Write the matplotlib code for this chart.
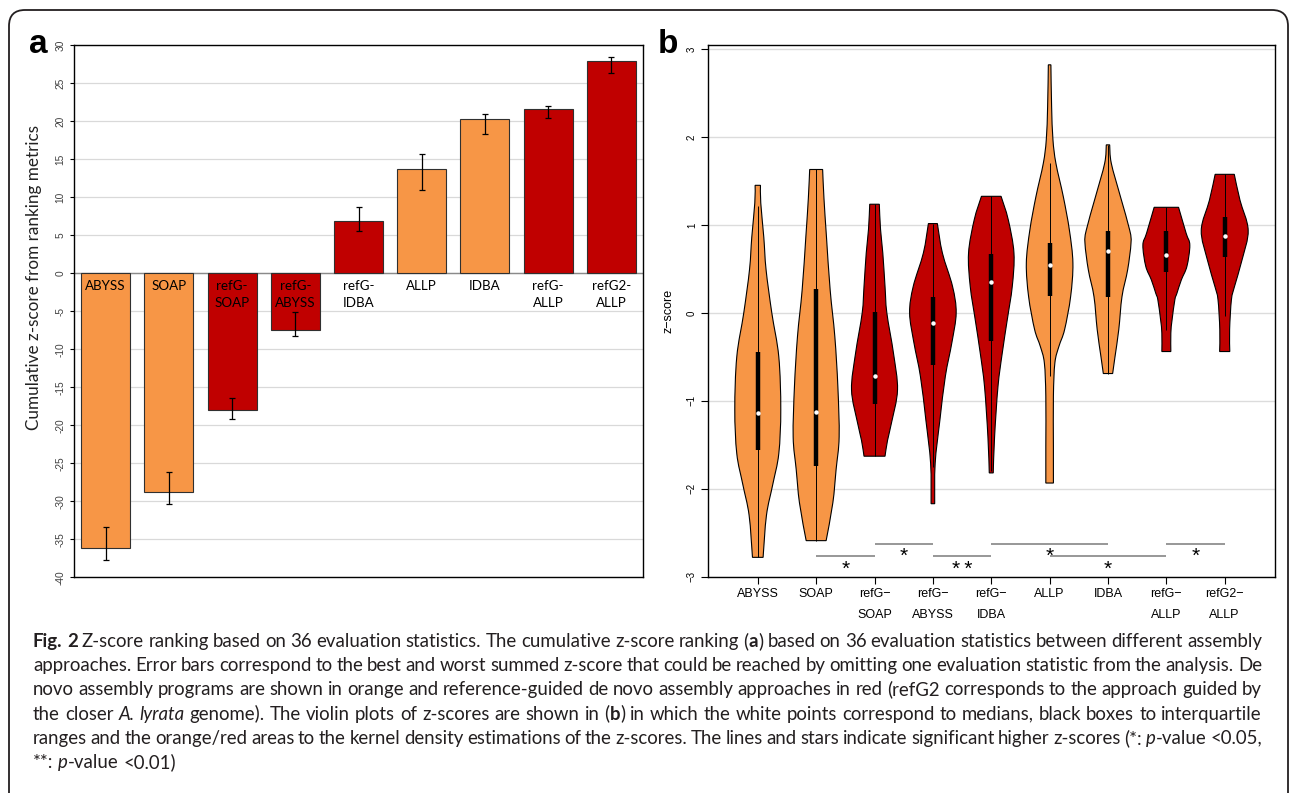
import numpy as np
import matplotlib
matplotlib.use("Agg")
import matplotlib.pyplot as plt
from matplotlib.path import Path
from matplotlib.patches import PathPatch, FancyBboxPatch
from matplotlib.transforms import IdentityTransform

plt.rcParams['font.family'] = ['Liberation Sans', 'DejaVu Sans']

# ---------------- data: panel a (cumulative z-score) ----------------
labels_a = ["ABYSS", "SOAP", "refG-\nSOAP", "refG-\nABYSS", "refG-\nIDBA",
            "ALLP", "IDBA", "refG-\nALLP", "refG2-\nALLP"]
guided = [0, 0, 1, 1, 1, 0, 0, 1, 1]
cum_z = [-36.2, -28.8, -18.0, -7.4, 6.9, 13.7, 20.3, 21.6, 27.9]
cum_z_worst = [-37.7, -30.4, -19.2, -8.3, 5.5, 10.9, 18.3, 20.4, 26.4]
cum_z_best = [-33.4, -26.2, -16.4, -5.1, 8.7, 15.7, 20.9, 22.0, 28.4]
yticks_a = [30, 25, 20, 15, 10, 5, 0, -5, -10, -15, -20, -25, -30, -35, -40]

# ---------------- data: panel b (violins of z-scores) ----------------
labels_b = ["ABYSS", "SOAP", "refG\u2212\nSOAP", "refG\u2212\nABYSS", "refG\u2212\nIDBA",
            "ALLP", "IDBA", "refG\u2212\nALLP", "refG2\u2212\nALLP"]
# density outline: z levels (top -> bottom) and half widths (x units)
vio_z = [
    [1.45, 1.25, 0.86, 0.49, 0.0, -0.5, -1.1, -1.6, -1.95, -2.3, -2.78],
    [1.63, 1.3, 0.87, 0.26, -0.27, -0.84, -1.41, -1.78, -2.16, -2.59],
    [1.235, 0.95, 0.68, 0.3, 0.0, -0.46, -0.875, -1.25, -1.45, -1.63],
    [1.015, 0.68, 0.30, 0.0, -0.34, -0.72, -1.22, -1.71, -2.17],
    [1.325, 1.06, 0.68, 0.30, -0.08, -0.46, -0.84, -1.41, -1.82],
    [2.82, 2.35, 1.97, 1.70, 1.32, 0.94, 0.565, 0.185, -0.19, -0.38, -0.57, -0.95, -1.52, -1.935],
    [1.91, 1.70, 1.32, 0.94, 0.79, 0.49, 0.185, -0.19, -0.5, -0.69],
    [1.2, 0.905, 0.77, 0.53, 0.375, 0.22, 0.15, -0.08, -0.23, -0.44],
    [1.575, 1.28, 0.94, 0.60, 0.30, 0.15, -0.19, -0.44],
]
vio_w = [
    [0.046, 0.051, 0.103, 0.142, 0.240, 0.360, 0.394, 0.360, 0.257, 0.149, 0.091],
    [0.111, 0.134, 0.176, 0.240, 0.320, 0.372, 0.394, 0.342, 0.286, 0.171],
    [0.082, 0.103, 0.142, 0.180, 0.211, 0.325, 0.394, 0.291, 0.223, 0.180],
    [0.077, 0.163, 0.337, 0.399, 0.325, 0.214, 0.120, 0.039, 0.031],
    [0.168, 0.291, 0.389, 0.360, 0.274, 0.188, 0.115, 0.057, 0.034],
    [0.022, 0.034, 0.057, 0.108, 0.235, 0.339, 0.399, 0.360, 0.257, 0.160, 0.090, 0.065, 0.065, 0.065],
    [0.029, 0.057, 0.214, 0.372, 0.394, 0.337, 0.240, 0.185, 0.120, 0.080],
    [0.209, 0.339, 0.402, 0.353, 0.257, 0.180, 0.146, 0.098, 0.077, 0.077],
    [0.164, 0.262, 0.402, 0.296, 0.168, 0.115, 0.084, 0.087],
]
whisk_lo = [-2.78, -2.59, -1.63, -1.75, -1.80, -0.72, -0.69, -0.20, -0.04]
whisk_hi = [1.22, 1.63, 1.235, 1.015, 1.325, 1.70, 1.91, 1.20, 1.575]
q1 = [-1.56, -1.74, -1.04, -0.59, -0.32, 0.19, 0.185, 0.47, 0.64]
q3 = [-0.45, 0.27, 0.015, 0.18, 0.67, 0.79, 0.935, 0.925, 1.09]
median = [-1.14, -1.13, -0.72, -0.11, 0.35, 0.54, 0.70, 0.655, 0.87]
yticks_b = [-3, -2, -1, 0, 1, 2, 3]

sig_from = [2, 3, 4, 5, 6, 8]
sig_to = [3, 4, 5, 7, 8, 9]
sig_level = [-2.77, -2.63, -2.77, -2.63, -2.77, -2.63]
sig_stars = ["*", "*", "**", "*", "*", "*"]

# ---------------- caption ----------------
caption_runs = [
    [("Fig. 2", "b"), (" Z-score ranking based on 36 evaluation statistics. The cumulative z-score ranking (", "n"),
     ("a", "b"), (") based on 36 evaluation statistics between different assembly", "n")],
    [("approaches. Error bars correspond to the best and worst summed z-score that could be reached by omitting one evaluation statistic from the analysis. De", "n")],
    [("novo assembly programs are shown in orange and reference-guided de novo assembly approaches in red (refG2 corresponds to the approach guided by", "n")],
    [("the closer ", "n"), ("A. lyrata", "i"), (" genome). The violin plots of z-scores are shown in (", "n"), ("b", "b"),
     (") in which the white points correspond to medians, black boxes to interquartile", "n")],
    [("ranges and the orange/red areas to the kernel density estimations of the z-scores. The lines and stars indicate significant higher z-scores (*: ", "n"),
     ("p", "i"), ("-value <0.05,", "n")],
    [("**: ", "n"), ("p", "i"), ("-value <0.01)", "n")],
]

ORANGE = "#F79646"
RED = "#C00000"
W, H = 1290, 793

fig = plt.figure(figsize=(W / 100, H / 100), dpi=100)


def frac_rect(left, top, right, bottom):
    return [left / W, 1 - bottom / H, (right - left) / W, (bottom - top) / H]


# ================= panel a =================
ax_a = fig.add_axes(frac_rect(74, 45.3, 643, 577.3))
xa = np.arange(len(cum_z))
cols = [RED if g else ORANGE for g in guided]
ax_a.bar(xa, cum_z, width=0.775, color=cols, edgecolor="#303030", linewidth=0.8, zorder=3)
vals = np.array(cum_z)
ax_a.errorbar(xa, vals, yerr=[vals - np.array(cum_z_worst), np.array(cum_z_best) - vals],
              fmt="none", ecolor="black", elinewidth=0.9, capsize=2.2, capthick=0.9, zorder=4)
ax_a.axhline(0, color="#8a8a8a", lw=1.0, zorder=2)
ax_a.set_xlim(-0.5, len(cum_z) - 0.5)
ax_a.set_ylim(-40, 30)
ax_a.set_yticks(yticks_a)
ax_a.set_yticklabels([str(v) for v in yticks_a], rotation=90, va="center", fontsize=7.3, color="#404040")
ax_a.yaxis.grid(True, color="#d9d9d9", lw=0.9)
ax_a.set_axisbelow(True)
ax_a.set_xticks([])
ax_a.tick_params(axis="y", direction="out", length=3, width=0.8, pad=3)
for s in ax_a.spines.values():
    s.set_linewidth(1.0)
    s.set_color("black")
ax_a.set_ylabel("Cumulative z-score from ranking metrics", fontsize=12.3, family=["Lato", "DejaVu Sans"], color="#222222")
ax_a.yaxis.set_label_coords((42 - 74) / 569, (577.3 - 278) / 532)
for i, lab in enumerate(labels_a):
    ax_a.text(i, -0.85, lab, ha="center", va="top", fontsize=9.6, family=["Lato", "DejaVu Sans"],
              linespacing=1.5, color="black", zorder=5)

fig.text(38 / W, 1 - 53 / H, "a", fontsize=24, weight="bold", ha="center", va="baseline")
fig.text(668 / W, 1 - 53 / H, "b", fontsize=24, weight="bold", ha="center", va="baseline")

# ================= panel b =================
ax_b = fig.add_axes(frac_rect(708, 45.3, 1274.5, 576.7))
ax_b.set_xlim(0.147, 9.853)
ax_b.set_ylim(-2.997, 3.042)
ax_b.set_yticks(yticks_b)
ax_b.set_yticklabels([str(v).replace("-", "\u2212") for v in yticks_b], rotation=90, va="center", fontsize=7)
ax_b.yaxis.grid(True, color="#dcdcdc", lw=1.0)
ax_b.set_axisbelow(True)
ax_b.set_xticks(np.arange(1, 10))
ax_b.set_xticklabels(labels_b, fontsize=9, linespacing=2.0)
ax_b.tick_params(axis="both", direction="out", length=5, width=0.8, pad=3)
for s in ax_b.spines.values():
    s.set_linewidth(1.0)
    s.set_color("black")
ax_b.set_ylabel("z\u2212score", fontsize=9)
ax_b.yaxis.set_label_coords((674.5 - 708) / 566.5, 0.5)


def cr_bezier(pts):
    verts, codes = [], []
    n = len(pts)
    for k in range(n - 1):
        p0 = pts[max(k - 1, 0)]
        p1 = pts[k]
        p2 = pts[k + 1]
        p3 = pts[min(k + 2, n - 1)]
        c1 = p1 + (p2 - p0) / 6.0
        c2 = p2 - (p3 - p1) / 6.0
        verts += [tuple(c1), tuple(c2), tuple(p2)]
        codes += [Path.CURVE4] * 3
    return verts, codes


for i in range(len(vio_z)):
    p = i + 1
    z = np.array(vio_z[i])
    w = np.array(vio_w[i])
    col = RED if guided[i] else ORANGE
    right = np.column_stack([p + w, z])
    left = np.column_stack([p - w[::-1], z[::-1]])
    verts = [(p - w[0], z[0]), (p + w[0], z[0])]
    codes = [Path.MOVETO, Path.LINETO]
    v, c = cr_bezier(right)
    verts += v
    codes += c
    verts.append((p - w[-1], z[-1]))
    codes.append(Path.LINETO)
    v, c = cr_bezier(left)
    verts += v
    codes += c
    verts.append((p - w[0], z[0]))
    codes.append(Path.CLOSEPOLY)
    ax_b.add_patch(PathPatch(Path(verts, codes), facecolor=col, edgecolor="black", lw=0.8, zorder=3))
    ax_b.vlines(p, whisk_lo[i], whisk_hi[i], color="black", lw=0.7, zorder=4)
    ax_b.vlines(p, q1[i], q3[i], color="black", lw=3.2, zorder=5, capstyle="butt")
    ax_b.plot([p], [median[i]], "o", color="white", ms=3.2, mec="none", zorder=6)

for a, b, lev, st in zip(sig_from, sig_to, sig_level, sig_stars):
    ax_b.hlines(lev, a, b, color="#7a7a7a", lw=1.1, zorder=4)
    txt = st if len(st) == 1 else "*\u2009*"
    ax_b.text((a + b) / 2, lev - 0.035, txt, ha="center", va="top", fontsize=15, zorder=5,
              family=["Liberation Sans", "DejaVu Sans"])

# ================= frame =================
frame = FancyBboxPatch((9, -60), 1279, 783 + 60, boxstyle="round,pad=0,rounding_size=16",
                       transform=IdentityTransform(), fill=False, ec="#231f20", lw=1.3)
fig.add_artist(frame)

# ================= caption (justified) =================
renderer = fig.canvas.get_renderer()
style_kw = {
    "n": dict(family=["Lato", "DejaVu Sans"]),
    "b": dict(family=["Lato", "DejaVu Sans"], weight="bold"),
    "i": dict(family=["Lato", "DejaVu Sans"], style="italic"),
}
CAP_COLOR = "#231f20"


def tw(s, st, fs):
    t = fig.text(0, 0, s, fontsize=fs, **style_kw[st])
    wdt = t.get_window_extent(renderer).width
    t.remove()
    return wdt


def adv(s, st, fs):
    return tw("|" + s + "|", st, fs) - tw("||", st, fs)


def words_of(runs):
    words = [[]]
    for text, st in runs:
        parts = text.split(" ")
        for j, part in enumerate(parts):
            if j > 0:
                words.append([])
            if part:
                words[-1].append((part, st))
    return [wd for wd in words if wd]


cap_x0, cap_x1 = 33, 1262
target = cap_x1 - cap_x0
fs0 = 14.5
space0 = adv(" ", "n", fs0)
need = 0
for runs in caption_runs[:-1]:
    wds = words_of(runs)
    tot = sum(adv(seg, st, fs0) for wd in wds for seg, st in wd)
    need = max(need, tot + (len(wds) - 1) * space0 * 0.8)
fs = min(fs0, fs0 * target / need)
space = adv(" ", "n", fs)

base0 = 647
lead = 24.2
for li, runs in enumerate(caption_runs):
    wds = words_of(runs)
    wwidths = [[adv(seg, st, fs) for seg, st in wd] for wd in wds]
    tot = sum(sum(ww) for ww in wwidths)
    if li < len(caption_runs) - 1 and len(wds) > 1:
        gap = (target - tot) / (len(wds) - 1)
    else:
        gap = space
    x = cap_x0
    yb = H - (base0 + li * lead)
    for wd, ww in zip(wds, wwidths):
        xx = x
        for (seg, st), sw in zip(wd, ww):
            fig.text(xx, yb, seg, fontsize=fs, color=CAP_COLOR, ha="left", va="baseline",
                     transform=IdentityTransform(), **style_kw[st])
            xx += sw
        x += sum(ww) + gap

fig.savefig("out.png", dpi=100)
